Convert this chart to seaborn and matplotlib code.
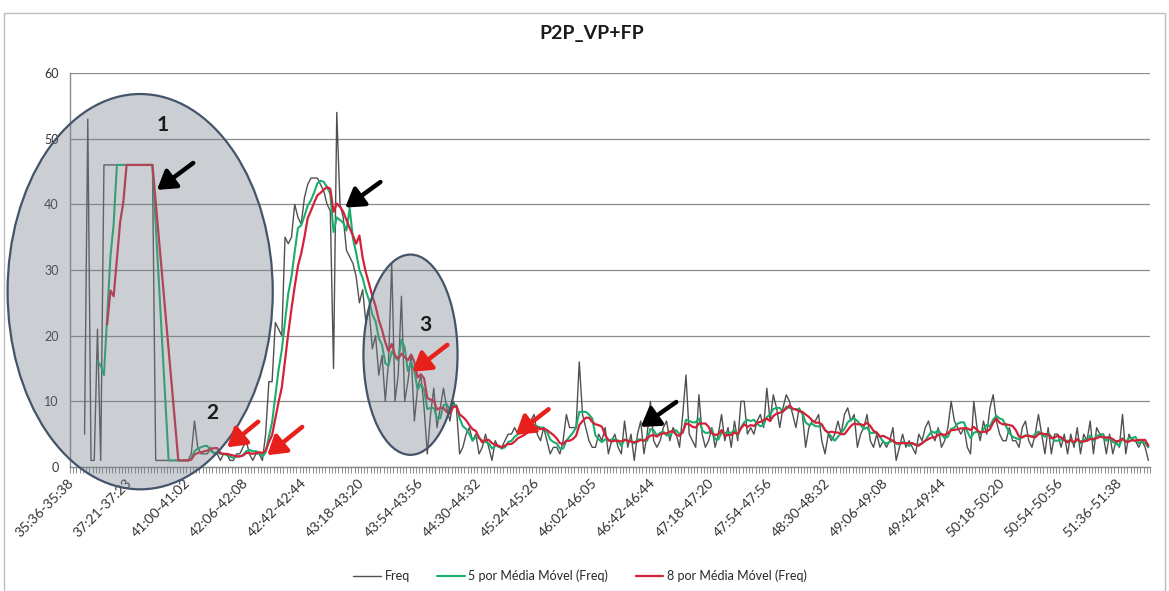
import numpy as np
import pandas as pd
import matplotlib
matplotlib.use("Agg")
import matplotlib.pyplot as plt
from matplotlib.patches import Ellipse, Rectangle
from matplotlib.lines import Line2D
import seaborn as sns

# Freq values, one per 2-second category; first cells blank
freq = [
    None, None, None, None, 5, 53, 1, 1, 21, 1,
    46, 46, 46, 46, 46, 46, 46, 46, 46, 46,
    46, 46, 46, 46, 46, 46, 1, 1, 1, 1,
    1, 1, 1, 1, 1, 1, 1, 2, 7, 3,
    2, 2, 2, 3, 2, 2, 1, 2, 2, 1,
    1, 2, 2, 3, 4, 2, 1, 2, 2, 1,
    5, 13, 13, 22, 21, 20, 35, 34, 35, 40,
    38, 37, 41, 43, 44, 44, 44, 43, 42, 40,
    39, 15, 54, 40, 38, 33, 32, 31, 29, 25,
    27, 22, 24, 18, 20, 14, 17, 10, 16, 31,
    10, 14, 26, 10, 13, 17, 7, 12, 14, 9,
    2, 8, 12, 6, 9, 12, 9, 7, 10, 9,
    2, 3, 5, 6, 4, 5, 2, 3, 5, 3,
    1, 4, 3, 3, 4, 5, 5, 6, 5, 6,
    5, 6, 7, 8, 5, 4, 6, 4, 2, 3,
    3, 2, 4, 8, 6, 6, 6, 16, 8, 6,
    4, 3, 3, 5, 4, 6, 2, 4, 5, 3,
    2, 7, 3, 5, 1, 5, 7, 2, 5, 10,
    4, 3, 4, 6, 7, 4, 6, 5, 3, 8,
    14, 5, 4, 3, 11, 5, 3, 4, 6, 3,
    5, 8, 4, 6, 3, 7, 4, 10, 10, 5,
    6, 5, 7, 8, 6, 12, 7, 11, 9, 6,
    9, 11, 10, 8, 6, 9, 8, 3, 6, 7,
    7, 8, 4, 2, 5, 4, 5, 7, 5, 8,
    9, 7, 8, 3, 5, 6, 8, 4, 3, 5,
    3, 4, 3, 4, 6, 1, 3, 5, 3, 4,
    3, 2, 5, 4, 6, 7, 5, 4, 6, 3,
    4, 6, 10, 7, 6, 5, 6, 3, 2, 10,
    6, 4, 7, 5, 9, 11, 7, 5, 4, 4,
    6, 4, 4, 3, 6, 7, 4, 3, 5, 8,
    5, 2, 6, 2, 5, 5, 3, 5, 2, 5,
    3, 6, 2, 5, 4, 7, 2, 6, 5, 5,
    2, 5, 2, 4, 3, 8, 2, 5, 4, 4,
    3, 4, 3, 1,
]

tick_labels = [
    "35:36-35:38", "37:21-37:23", "41:00-41:02", "42:06-42:08", "42:42-42:44",
    "43:18-43:20", "43:54-43:56", "44:30-44:32", "45:24-45:26", "46:02-46:05",
    "46:42-46:44", "47:18-47:20", "47:54-47:56", "48:30-48:32", "49:06-49:08",
    "49:42-49:44", "50:18-50:20", "50:54-50:56", "51:36-51:38",
]
label_step = 18
ma_windows = [5, 8]
series_names = ["Freq", "5 por Média Móvel (Freq)", "8 por Média Móvel (Freq)"]
colors = ["#505050", "#1aae6c", "#d42038"]
widths = [1.0, 1.5, 1.6]

n = len(freq)
df = pd.DataFrame({"idx": np.arange(n), "Freq": pd.to_numeric(pd.Series(freq), errors="coerce")})
for w, name in zip(ma_windows, series_names[1:]):
    df[name] = df["Freq"].rolling(w).mean()
long = df.melt(id_vars="idx", var_name="serie", value_name="valor").dropna()

sns.set_theme(style="white")
plt.rcParams["font.family"] = ["Lato", "DejaVu Sans"]

W, H = 1169, 591
fig = plt.figure(figsize=(W / 100, H / 100), dpi=100)
ax = fig.add_axes([70 / W, (H - 467) / H, 1080 / W, 394 / H])

sns.lineplot(data=long, x="idx", y="valor", hue="serie", size="serie",
             palette=dict(zip(series_names, colors)),
             sizes=dict(zip(series_names, widths)),
             hue_order=series_names, legend=False, ax=ax)

ax.set_xlim(-0.5, n - 0.5)
ax.set_ylim(0, 60)
ax.set_yticks(range(0, 61, 10))
ax.yaxis.grid(True, color="#8a8a8a", lw=0.9)
ax.set_axisbelow(True)
ax.set_xlabel("")
ax.set_ylabel("")
for s in ["top", "right"]:
    ax.spines[s].set_visible(False)
for s in ["left", "bottom"]:
    ax.spines[s].set_color("#8a8a8a")
    ax.spines[s].set_linewidth(1)

ax.set_xticks(np.arange(len(tick_labels)) * label_step)
ax.set_xticklabels(tick_labels, rotation=45, ha="right", va="center",
                   rotation_mode="anchor", fontsize=10, color="#333333")
ax.set_xticks(np.arange(-0.5, n, 1), minor=True)
ax.tick_params(axis="x", which="major", length=0, pad=10)
ax.tick_params(axis="x", which="minor", length=4, color="#8a8a8a", width=0.7, bottom=True)
ax.tick_params(axis="y", labelsize=9, labelcolor="#333333", length=0, pad=8)

# annotations: circled areas, numbers and arrows
shade = (0.47, 0.50, 0.55, 0.38)
edge = "#44546a"
for (cx, cy, ew, eh) in [(21.2, 26.7, 82, 60.2), (104.8, 17.1, 29.1, 30.5)]:
    ax.add_patch(Ellipse((cx, cy), ew, eh, facecolor=shade, edgecolor=edge,
                         lw=1.6, clip_on=False, zorder=5))

for x, y, t in [(28.3, 52.1, "1"), (43.5, 8.2, "2"), (109.4, 21.6, "3")]:
    ax.text(x, y, t, fontsize=15, fontweight="bold", color="#1a1a1a",
            ha="center", va="center", zorder=7)

arrows = [
    ((37.6, 46.3), (26.4, 42.2), "black"),
    ((95.5, 43.4), (84.6, 39.5), "black"),
    ((187.0, 9.9), (176.0, 6.1), "black"),
    ((57.7, 6.9), (48.1, 3.0), "#e8201c"),
    ((71.3, 6.1), (60.5, 1.8), "#e8201c"),
    ((116.2, 18.6), (105.4, 14.5), "#e8201c"),
    ((147.5, 8.8), (137.3, 4.9), "#e8201c"),
]
for tail, head, c in arrows:
    ax.annotate("", xy=head, xytext=tail, zorder=8,
                arrowprops=dict(arrowstyle="-|>,head_length=0.6,head_width=0.38",
                                mutation_scale=18, color=c, lw=3.2,
                                shrinkA=0, shrinkB=0))

fig.text(592 / W, 1 - 33 / H, "P2P_VP+FP", ha="center", va="center",
         fontsize=14, fontweight="bold", color="#1a1a1a")

handles = [Line2D([], [], color=c, lw=lw) for c, lw in zip(colors, widths)]
fig.legend(handles, series_names, loc="center", bbox_to_anchor=(580 / W, 1 - 576 / H),
           ncol=3, frameon=False, fontsize=9, handlelength=2.2, columnspacing=2.2,
           handletextpad=0.3)

fig.add_artist(Rectangle((4 / W, 0), 1 - 8 / W, 1 - 13 / H, transform=fig.transFigure,
                         fill=False, edgecolor="#bdbdbd", lw=1))

plt.savefig("out.png", dpi=100)
plt.close()
